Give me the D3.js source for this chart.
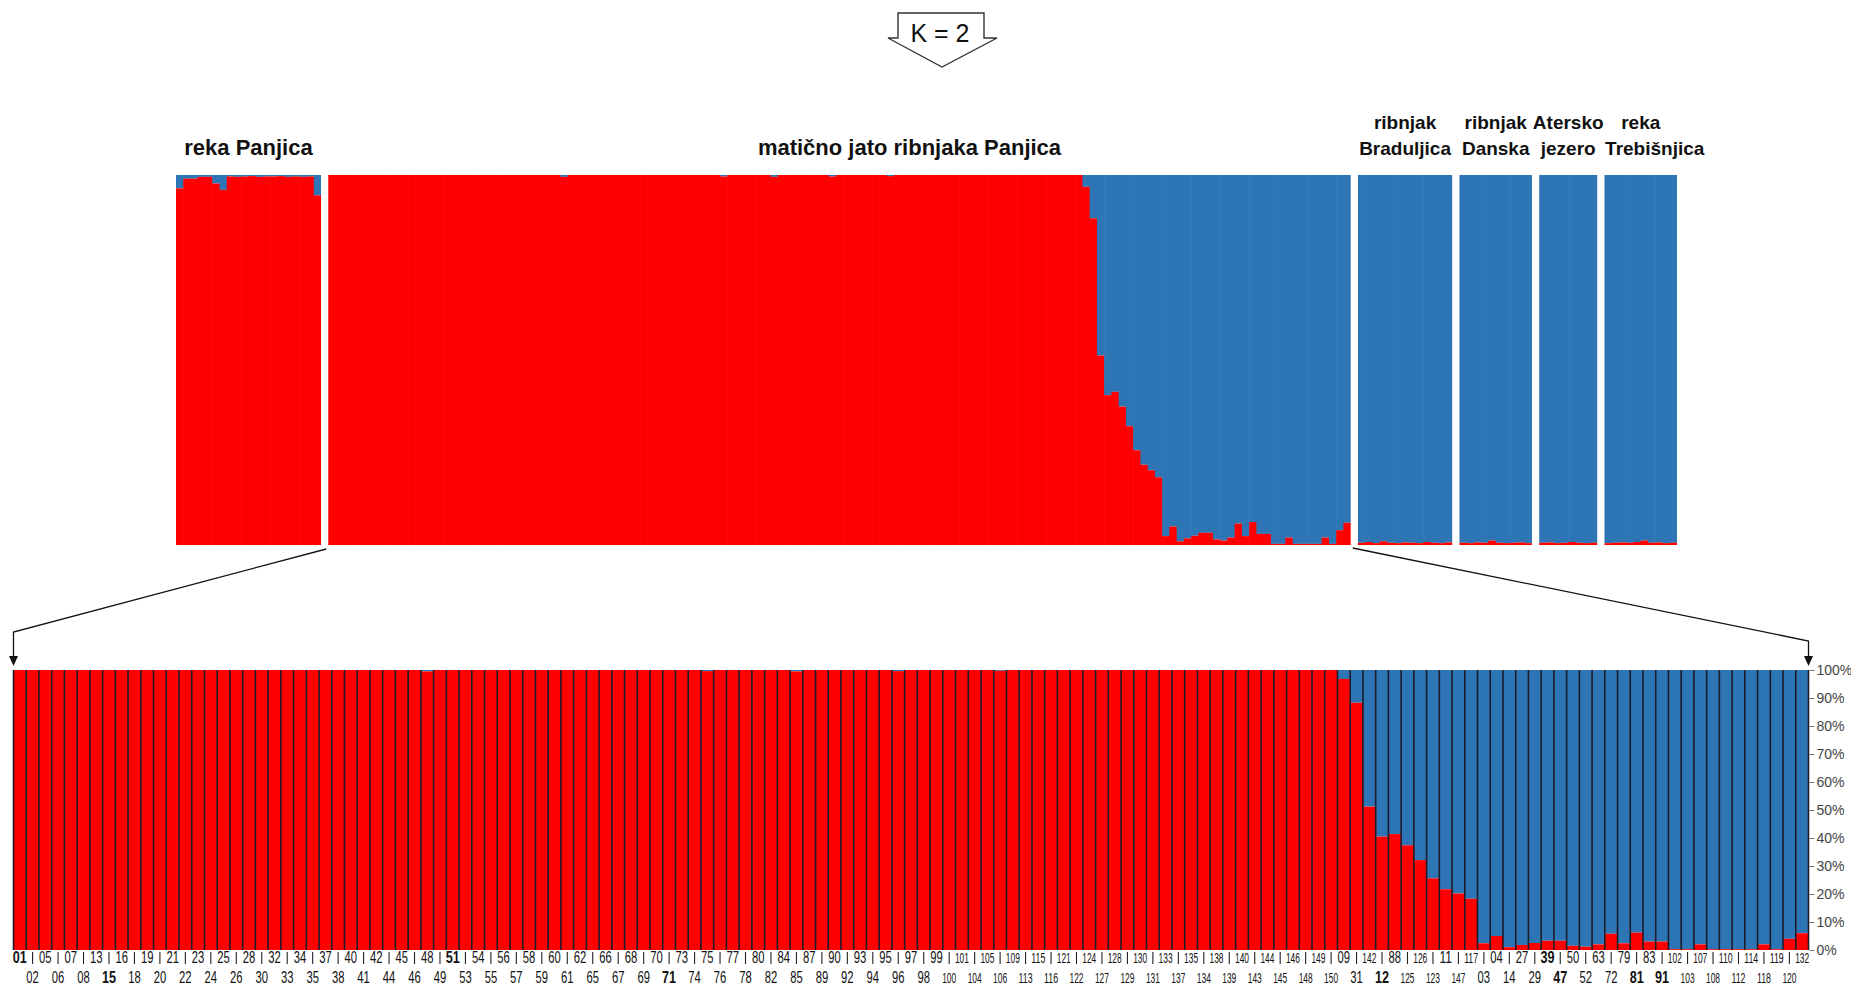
<!DOCTYPE html>
<html>
<head>
<meta charset="utf-8">
<script src="https://cdn.jsdelivr.net/npm/d3@7"></script>
<style>
  body { margin: 0; background: #ffffff; }
  svg { display: block; }
  text { font-family: "Liberation Sans", Arial, sans-serif; }
</style>
</head>
<body>
<svg id="chart" width="1851" height="986"></svg>
<script>
// Membership in cluster 1 (red) for K = 2; cluster 2 (blue) is the remainder.
const clusterColors = ["#ff0000", "#2e75b6"];
const kLabel = "K = 2";

const rekaPanjica = [0.964, 0.99, 0.99, 0.995, 0.995, 0.977, 0.96, 0.996, 0.995, 0.996,
                     0.997, 0.995, 0.996, 0.996, 0.997, 0.995, 0.996, 0.995, 0.996, 0.945];

const maticnoJato = [
  1, 1, 1, 1, 1, 1, 1, 1, 1, 1,
  1, 1, 1, 1, 1, 1, 1, 1, 1, 1,
  1, 1, 1, 1, 1, 1, 1, 1, 1, 1,
  1, 1, 0.995, 1, 1, 1, 1, 1, 1, 1,
  1, 1, 1, 1, 1, 1, 1, 1, 1, 1,
  1, 1, 1, 1, 0.996, 1, 1, 1, 1, 1,
  1, 0.995, 1, 1, 1, 1, 1, 1, 1, 0.996,
  1, 1, 1, 1, 1, 1, 1, 0.997, 1, 1,
  1, 1, 1, 1, 1, 1, 1, 1, 1, 1,
  1, 1, 1, 1, 1, 1, 1, 1, 1, 1,
  1, 1, 1, 1, 0.968, 0.883, 0.512, 0.405, 0.414, 0.374,
  0.321, 0.256, 0.217, 0.202, 0.183, 0.024, 0.05, 0.01, 0.018, 0.025,
  0.033, 0.033, 0.015, 0.012, 0.02, 0.058, 0.024, 0.062, 0.03, 0.03,
  0.003, 0.003, 0.02, 0.003, 0.003, 0.003, 0.003, 0.02, 0.003, 0.04,
  0.06
];

const maticnoJatoIds = [
  "01","02","05","06","07","08","13","15","16","18","19","20","21","22","23","24","25","26","28","30",
  "32","33","34","35","37","38","40","41","42","44","45","46","48","49","51","53","54","55","56","57",
  "58","59","60","61","62","65","66","67","68","69","70","71","73","74","75","76","77","78","80","82",
  "84","85","87","89","90","92","93","94","95","96","97","98","99","100","101","104","105","106","109","113",
  "115","116","121","122","124","127","128","129","130","131","133","137","135","134","138","139","140","143","144","145",
  "146","148","149","150","09","31","142","12","88","125","126","123","11","147","117","03","04","14","27","29",
  "39","47","50","52","63","72","79","81","83","91","102","103","107","108","110","112","114","118","119","120",
  "132"
];
const boldIds = ["01", "15", "51", "71", "12", "39", "47", "81", "91"];

const braduljica = [0.006, 0.008, 0.005, 0.01, 0.006, 0.005, 0.007, 0.006, 0.005, 0.008, 0.006, 0.005, 0.007];
const danska = [0.006, 0.005, 0.007, 0.006, 0.012, 0.006, 0.005, 0.006, 0.007, 0.005];
const aterskoJezero = [0.006, 0.007, 0.005, 0.006, 0.008, 0.006, 0.005, 0.006];
const trebisnjica = [0.005, 0.006, 0.007, 0.006, 0.008, 0.012, 0.006, 0.007, 0.005, 0.006];

const groupLabels = [
  ["reka Panjica"],
  ["matično jato ribnjaka Panjica"],
  ["ribnjak", "Braduljica"],
  ["ribnjak", "Danska"],
  ["Atersko", "jezero"],
  ["reka", "Trebišnjica"]
];
const groupValues = [rekaPanjica, maticnoJato, braduljica, danska, aterskoJezero, trebisnjica];
const percentTicks = [0, 0.1, 0.2, 0.3, 0.4, 0.5, 0.6, 0.7, 0.8, 0.9, 1];

const svg = d3.select("#chart");

// ---------- "K = 2" callout arrow ----------
(function drawCallout() {
  const g = svg.append("g");
  const cx = 942;
  const pts = [[cx - 44, 13], [cx + 42, 13], [cx + 42, 38], [cx + 55, 38],
               [cx, 67], [cx - 54, 38], [cx - 44, 38]];
  g.append("path")
    .attr("d", d3.line()(pts) + "Z")
    .attr("fill", "#ffffff")
    .attr("stroke", "#333333")
    .attr("stroke-width", 1.4)
    .attr("stroke-linejoin", "miter");
  g.append("text")
    .attr("x", cx - 2).attr("y", 42)
    .attr("text-anchor", "middle")
    .attr("font-size", 25)
    .attr("fill", "#111")
    .text(kLabel);
})();

// ---------- Top panel: all populations ----------
const topY0 = 545, topY1 = 175;
const groups = [];
let slot = 0;
groupValues.forEach((vals, gi) => {
  groups.push({ labels: groupLabels[gi], values: vals, start: slot });
  slot += vals.length + 1;          // one empty slot between populations
});
const totalSlots = slot - 1;

const xT = d3.scaleLinear().domain([0, totalSlots]).range([176, 1677]);
const yT = d3.scaleLinear().domain([0, 1]).range([topY0, topY1]);

// per-line horizontal nudges for the population captions
const captionShift = { "matično jato ribnjaka Panjica": 70, "Trebišnjica": 14, "reka": 0 };

const topG = svg.append("g");
groups.forEach((grp, gi) => {
  const gg = topG.append("g");
  const w = xT(1) - xT(0);
  const bars = gg.selectAll("g.ind").data(grp.values).join("g");
  // blue part (cluster 2)
  bars.append("rect")
    .attr("x", (d, i) => xT(grp.start + i))
    .attr("width", (d, i) => i === grp.values.length - 1 ? w : w + 0.6)
    .attr("y", yT(1))
    .attr("height", d => yT(d) - yT(1))
    .attr("fill", clusterColors[1]);
  // red part (cluster 1)
  bars.append("rect")
    .attr("x", (d, i) => xT(grp.start + i))
    .attr("width", (d, i) => i === grp.values.length - 1 ? w : w + 0.6)
    .attr("y", d => yT(d))
    .attr("height", d => yT(0) - yT(d))
    .attr("fill", clusterColors[0]);

  // population caption
  const cxg = (xT(grp.start) + xT(grp.start + grp.values.length)) / 2;
  const lines = grp.labels;
  const big = lines.length === 1;
  lines.forEach((ln, li) => {
    gg.append("text")
      .attr("x", cxg + (captionShift[ln] || 0))
      .attr("y", 155 - (lines.length - 1 - li) * 26)
      .attr("text-anchor", "middle")
      .attr("font-size", big ? 22 : 19)
      .attr("font-weight", "bold")
      .attr("fill", "#111")
      .text(ln);
  });
});

// ---------- Bottom panel: detail of the brood stock ----------
const botTop = 670, botBottom = 950;
const xB = d3.scaleBand().domain(d3.range(maticnoJato.length)).range([13.5, 1808.5]).paddingInner(0);
const yB = d3.scaleLinear().domain([0, 1]).range([botBottom, botTop]);

// connector lines with arrowheads from the main population to the detail panel
const mainGrp = groups[1];
const connG = svg.append("g").attr("fill", "none").attr("stroke", "#111").attr("stroke-width", 1.3);
const leftX = xB.range()[0], rightX = xB.range()[1];
connG.append("path").attr("d", d3.line()([[xT(mainGrp.start) - 2, 549], [leftX, 632], [leftX, 658]]));
connG.append("path").attr("d", d3.line()([[xT(mainGrp.start + maticnoJato.length) + 2, 548], [rightX, 641], [rightX, 658]]));
[leftX, rightX].forEach(x => {
  svg.append("path")
    .attr("d", d3.line()([[x - 4.5, 656], [x + 4.5, 656], [x, 666]]) + "Z")
    .attr("fill", "#111");
});

const botG = svg.append("g");
const bw = xB.bandwidth();
botG.selectAll("rect.blue").data(maticnoJato).join("rect")
  .attr("class", "blue")
  .attr("x", (d, i) => xB(i)).attr("width", bw + 0.5)
  .attr("y", yB(1)).attr("height", d => yB(d) - yB(1))
  .attr("fill", clusterColors[1]);
botG.selectAll("rect.red").data(maticnoJato).join("rect")
  .attr("class", "red")
  .attr("x", (d, i) => xB(i)).attr("width", bw + 0.5)
  .attr("y", d => yB(d)).attr("height", d => yB(0) - yB(d))
  .attr("fill", clusterColors[0]);

// dark separators between individuals
botG.selectAll("line.sep").data(d3.range(maticnoJato.length + 1)).join("line")
  .attr("class", "sep")
  .attr("x1", i => i < maticnoJato.length ? xB(i) : rightX)
  .attr("x2", i => i < maticnoJato.length ? xB(i) : rightX)
  .attr("y1", botTop).attr("y2", botBottom)
  .attr("stroke", "#1c1c2a").attr("stroke-width", 1.6);

// right percentage axis
const axis = d3.axisRight(yB).tickValues(percentTicks).tickFormat(d3.format(".0%")).tickSize(5).tickPadding(2);
const axG = svg.append("g").attr("transform", `translate(${rightX + 1},0)`).call(axis);
axG.select(".domain").remove();
axG.selectAll(".tick line").attr("stroke", "#777");
axG.selectAll(".tick text").attr("font-size", 14).attr("fill", "#444")
  .attr("font-family", "'Liberation Sans', Arial, sans-serif");

// individual labels, alternating between two rows
const labG = svg.append("g");
maticnoJatoIds.forEach((id, i) => {
  const cx = xB(i) + bw / 2;
  const upper = i % 2 === 0;
  const bold = boldIds.includes(id);
  const three = id.length === 3;
  labG.append("text")
    .attr("x", cx)
    .attr("y", upper ? 963 : 983)
    .attr("text-anchor", "middle")
    .attr("font-size", three ? (upper ? 15.5 : 14.5) : 16)
    .attr("font-weight", bold ? "bold" : "normal")
    .attr("fill", "#111")
    .attr("textLength", three ? 14 : (bold ? 14 : 12.5))
    .attr("lengthAdjust", "spacingAndGlyphs")
    .text(id);
  if (!upper) {
    labG.append("line")
      .attr("x1", cx).attr("x2", cx)
      .attr("y1", 952).attr("y2", 964)
      .attr("stroke", "#222").attr("stroke-width", 1.1);
  }
});
</script>
</body>
</html>
